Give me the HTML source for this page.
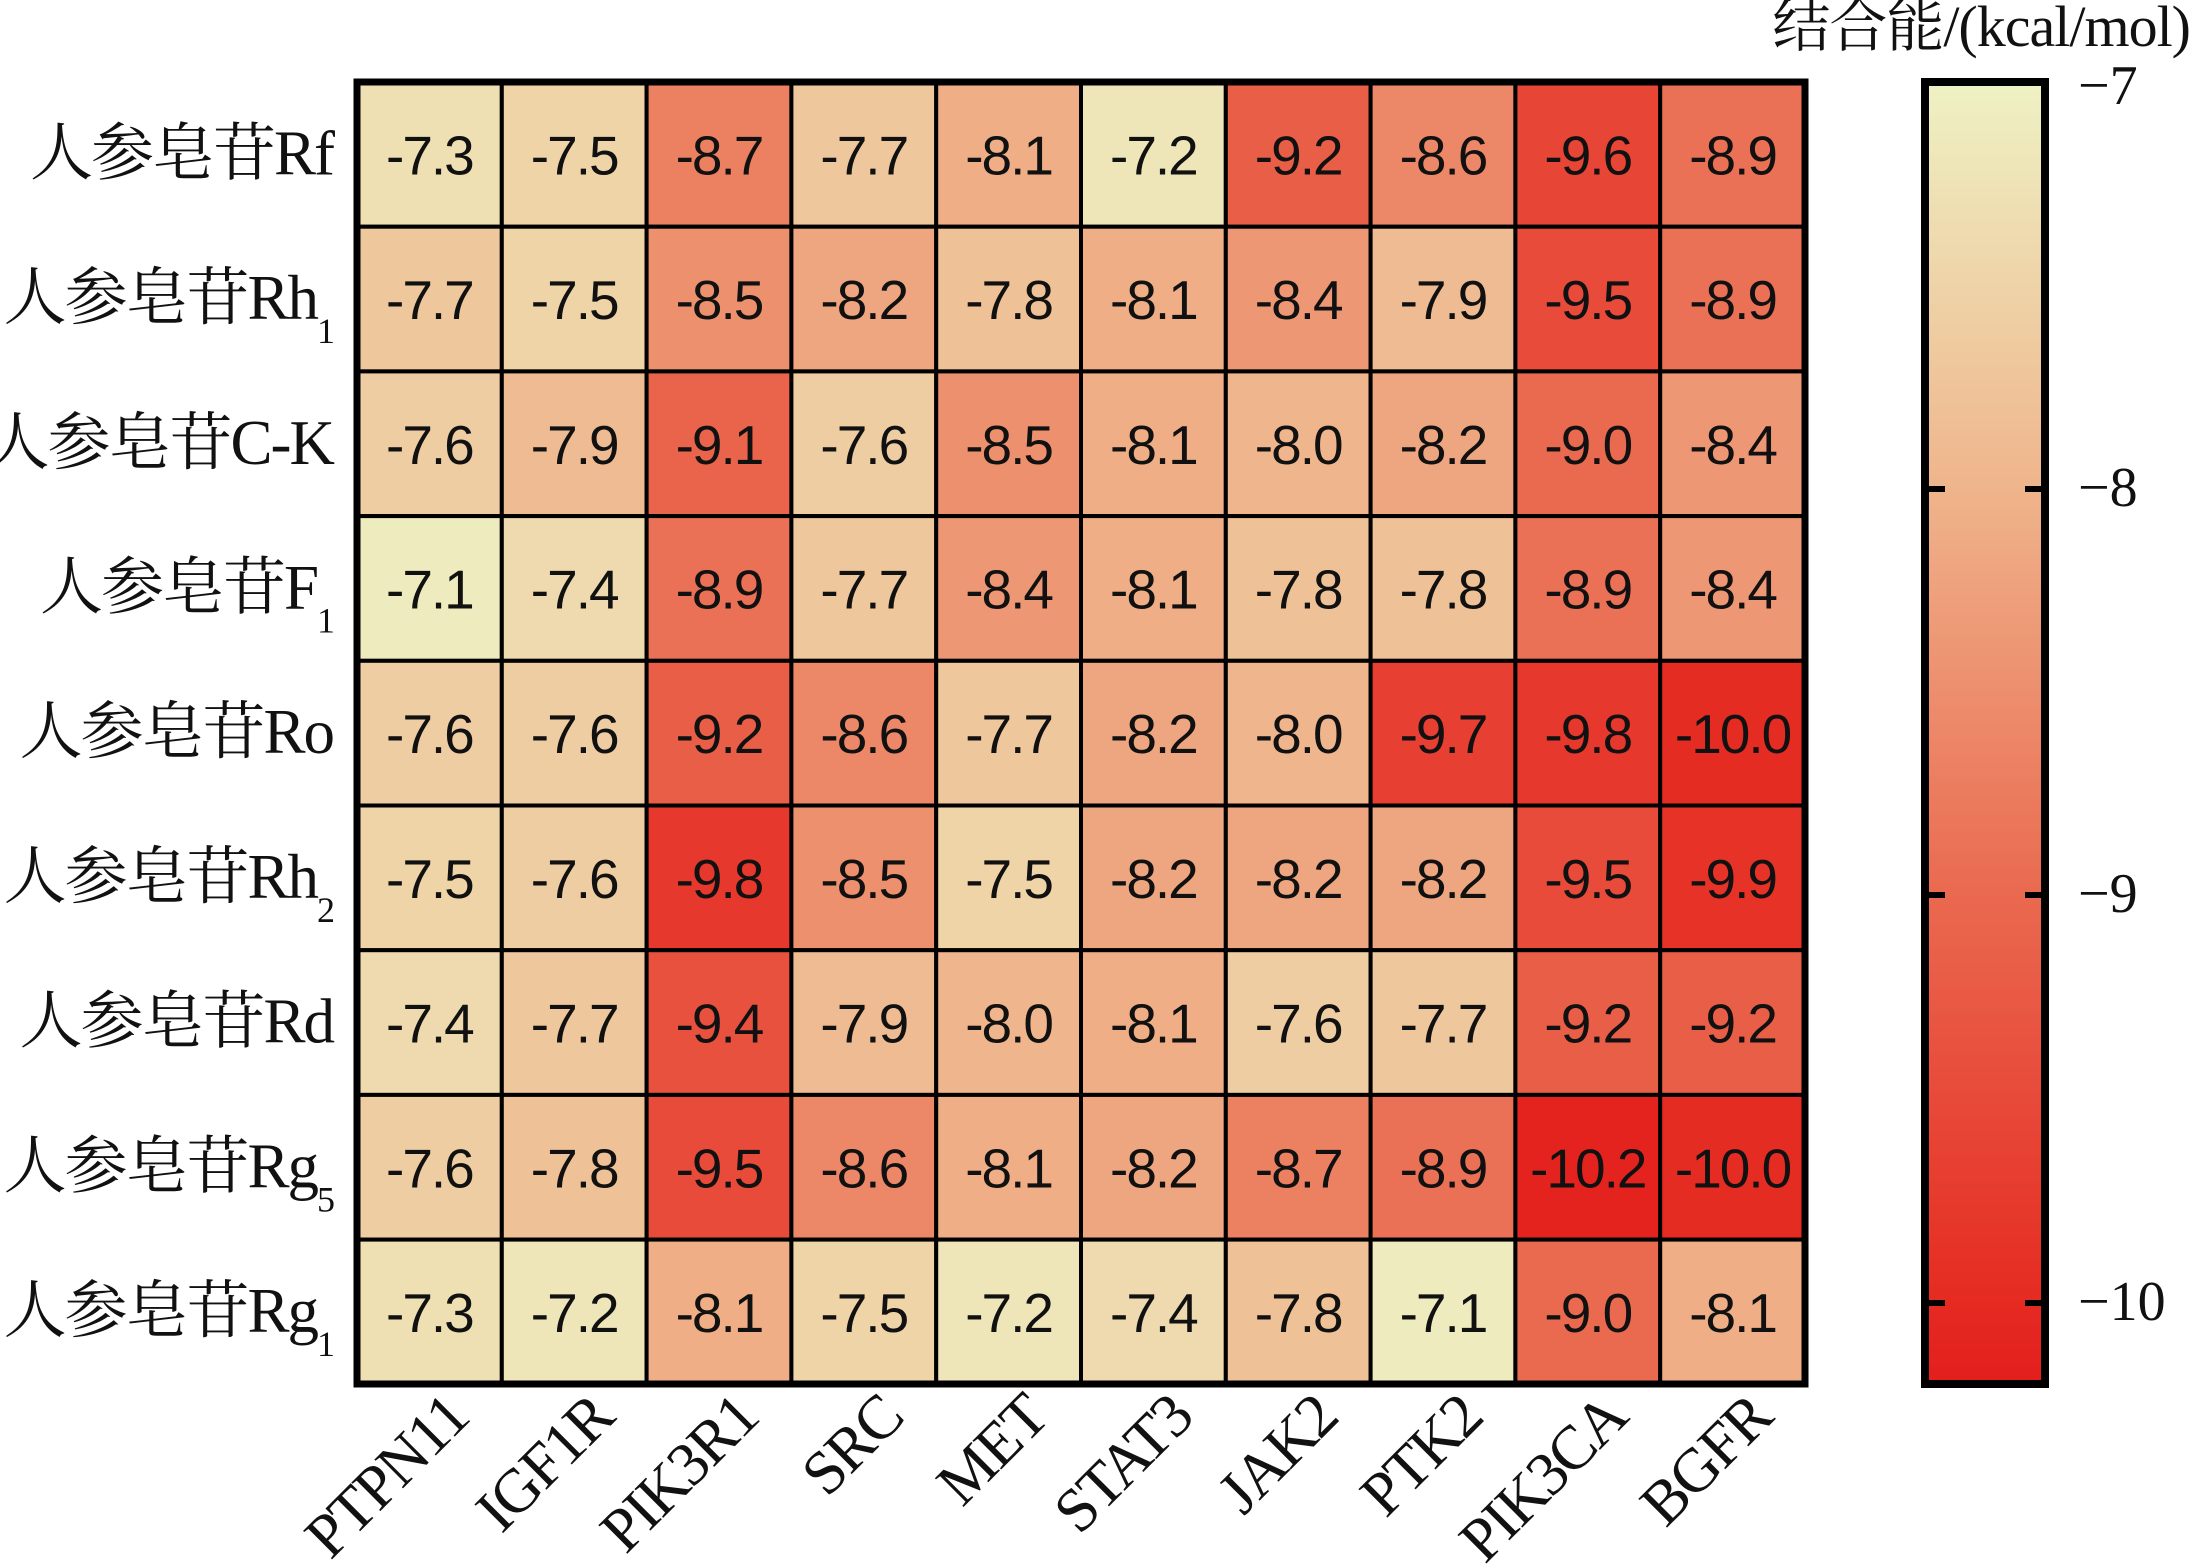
<!DOCTYPE html>
<html><head><meta charset="utf-8"><style>
html,body{margin:0;padding:0;background:#fff;}
svg{display:block;}
.c{font-family:"Liberation Sans",sans-serif;font-size:55px;letter-spacing:-2px;text-anchor:middle;fill:#111;}
.r{font-family:"Liberation Serif","Noto Serif CJK SC",serif;font-size:63px;letter-spacing:-2px;text-anchor:end;fill:#111;}
.x{font-family:"Liberation Serif",serif;font-size:62px;letter-spacing:-2px;text-anchor:end;fill:#111;}
.t{font-family:"Liberation Serif",serif;font-size:56px;fill:#111;}
</style></head><body>
<svg id="s" width="2192" height="1568" xmlns="http://www.w3.org/2000/svg">
<defs><linearGradient id="g" x1="0" y1="0" x2="0" y2="1">
<stop offset="0" stop-color="#eef2c4"/>
<stop offset="0.31" stop-color="#efb58c"/>
<stop offset="0.62" stop-color="#ea6a50"/>
<stop offset="0.93" stop-color="#e52c23"/>
<stop offset="1" stop-color="#e41e1c"/>
</linearGradient></defs>
<g id="cells"></g>
<rect x="357" y="82" width="1448" height="1302" fill="none" stroke="#000" stroke-width="7"/>
<rect x="1925" y="82" width="120" height="1302" fill="url(#g)" stroke="#000" stroke-width="8"/>
<g stroke="#000" stroke-width="6">
<line x1="1925" y1="489" x2="1945" y2="489"/><line x1="2025" y1="489" x2="2045" y2="489"/>
<line x1="1925" y1="895" x2="1945" y2="895"/><line x1="2025" y1="895" x2="2045" y2="895"/>
<line x1="1925" y1="1303" x2="1945" y2="1303"/><line x1="2025" y1="1303" x2="2045" y2="1303"/>
</g>
<text class="t" x="2078" y="104">−7</text>
<text class="t" x="2078" y="506">−8</text>
<text class="t" x="2078" y="912">−9</text>
<text class="t" x="2078" y="1320">−10</text>
<text x="2190" y="46" style="font-family:'Liberation Serif','Noto Serif CJK SC',serif;font-size:58px;letter-spacing:-1px;text-anchor:end;fill:#111">结合能/(kcal/mol)</text>
</svg>
<script>
var d=[[-7.3,-7.5,-8.7,-7.7,-8.1,-7.2,-9.2,-8.6,-9.6,-8.9],
[-7.7,-7.5,-8.5,-8.2,-7.8,-8.1,-8.4,-7.9,-9.5,-8.9],
[-7.6,-7.9,-9.1,-7.6,-8.5,-8.1,-8.0,-8.2,-9.0,-8.4],
[-7.1,-7.4,-8.9,-7.7,-8.4,-8.1,-7.8,-7.8,-8.9,-8.4],
[-7.6,-7.6,-9.2,-8.6,-7.7,-8.2,-8.0,-9.7,-9.8,-10.0],
[-7.5,-7.6,-9.8,-8.5,-7.5,-8.2,-8.2,-8.2,-9.5,-9.9],
[-7.4,-7.7,-9.4,-7.9,-8.0,-8.1,-7.6,-7.7,-9.2,-9.2],
[-7.6,-7.8,-9.5,-8.6,-8.1,-8.2,-8.7,-8.9,-10.2,-10.0],
[-7.3,-7.2,-8.1,-7.5,-7.2,-7.4,-7.8,-7.1,-9.0,-8.1]];
var stops=[[-7,[238,242,196]],[-8,[239,181,140]],[-9,[234,106,80]],[-10,[229,44,35]],[-10.3,[228,30,28]]];
function col(v){for(var i=0;i<stops.length-1;i++){var a=stops[i],b=stops[i+1];if(v<=a[0]&&v>=b[0]){var t=(a[0]-v)/(a[0]-b[0]);return 'rgb('+a[1].map(function(c,k){return Math.round(c+(b[1][k]-c)*t)}).join(',')+')';}}return 'rgb(228,30,28)';}
var rows=['人参皂苷Rf',['人参皂苷Rh','1'],'人参皂苷C-K',['人参皂苷F','1'],'人参皂苷Ro',['人参皂苷Rh','2'],'人参皂苷Rd',['人参皂苷Rg','5'],['人参皂苷Rg','1']];
var cols=['PTPN11','IGF1R','PIK3R1','SRC','MET','STAT3','JAK2','PTK2','PIK3CA','BGFR'];
var x0=357,y0=82,w=144.8,h=144.7,s='';
for(var r=0;r<9;r++){for(var c=0;c<10;c++){var v=d[r][c];
s+='<rect x="'+(x0+c*w)+'" y="'+(y0+r*h)+'" width="'+w+'" height="'+h+'" fill="'+col(v)+'" stroke="#000" stroke-width="4"/>';
s+='<text class="c" x="'+(x0+c*w+w/2)+'" y="'+(y0+r*h+h/2+20)+'">'+v.toFixed(1)+'</text>';}
var L=rows[r],yy=y0+r*h+h/2+20;
if(typeof L==='string')s+='<text class="r" x="333" y="'+yy+'">'+L+'</text>';
else s+='<text class="r" x="333" y="'+yy+'">'+L[0]+'<tspan font-size="36" dy="24">'+L[1]+'</tspan></text>';}
for(var c=0;c<10;c++){var cx=x0+c*w+w/2+42,cy=1420;
s+='<text class="x" transform="translate('+cx+','+cy+') rotate(-45)">'+cols[c]+'</text>';}
document.getElementById('cells').innerHTML=s;
</script>
</body></html>
